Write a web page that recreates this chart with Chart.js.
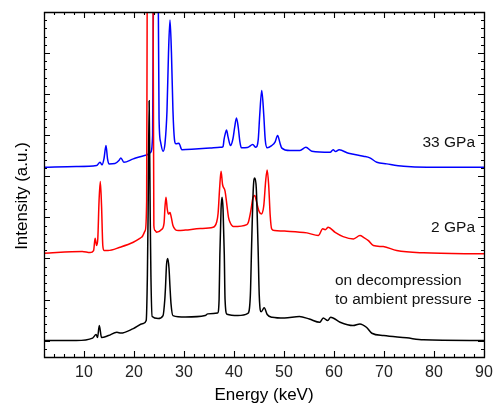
<!DOCTYPE html>
<html><head><meta charset="utf-8">
<script src="https://cdn.jsdelivr.net/npm/chart.js@4.4.0/dist/chart.umd.min.js"></script>
<style>html,body{margin:0;padding:0;background:#fff;}#wrap{width:493px;height:406px;position:relative;}</style>
</head><body><div id="wrap"><canvas id="c" width="493" height="406"></canvas></div>
<script>
const FONT = '"Liberation Sans", Arial, Helvetica, sans-serif';

// Energy axis (keV) and tick labels
const xTickValues = [10, 20, 30, 40, 50, 60, 70, 80, 90];
const yMajorValues = [0, 5, 10, 15, 20, 25, 30, 35, 40];

// Spectrum: on decompression to ambient pressure (black)
const blackEnergy = [2.0, 8.45, 11.72, 12.42, 12.71, 13.06, 13.51, 14.9, 16.58, 17.38, 19.86, 21.84, 22.44, 22.68, 22.83, 23.03, 23.23, 23.38, 23.63, 24.82, 25.81, 26.16, 26.3, 26.5, 26.75, 27.0, 27.2, 27.4, 27.79, 30.27, 34.24, 34.74, 36.72, 37.02, 37.17, 37.41, 37.61, 37.81, 38.06, 38.21, 38.6, 40.79, 42.77, 43.27, 43.52, 43.86, 44.16, 44.46, 44.81, 45.05, 45.45, 46.04, 46.64, 47.63, 50.11, 53.09, 55.07, 57.16, 57.85, 58.74, 59.34, 61.22, 63.8, 65.19, 66.48, 67.57, 69.95, 74.51, 77.89, 90];
const blackIntensity = [0, 0, 0.3, 0.73, 0.37, 1.83, 0.37, 0.61, 1.01, 0.91, 1.46, 2.07, 2.43, 8, 15.9, 29.2, 15.9, 8, 2.92, 2.68, 3.04, 5, 6.5, 9.2, 9.98, 8.8, 6.5, 4.5, 3.04, 2.86, 3.04, 3.25, 3.35, 5, 10.4, 16, 17.45, 16, 10.4, 5, 3.2, 3.04, 3.3, 5.5, 11.5, 18.5, 19.8, 18.5, 11.5, 5.5, 3.5, 4.0, 3.17, 2.84, 2.74, 2.92, 2.62, 2.23, 2.76, 2.43, 2.84, 2.23, 1.83, 2.03, 1.62, 0.89, 0.61, 0.33, 0.09, 0];

// Spectrum: 2 GPa (red)
const redEnergy = [2.0, 9.64, 11.23, 11.92, 12.22, 12.52, 12.76, 13.01, 13.26, 13.51, 13.76, 14.0, 14.8, 17.18, 19.86, 21.54, 22.24, 22.53, 22.63, 22.73, 23.72, 23.82, 23.97, 24.22, 24.52, 25.51, 26.01, 26.2, 26.4, 26.65, 26.9, 27.2, 27.49, 27.79, 28.29, 28.88, 30.27, 33.25, 35.83, 36.52, 36.82, 37.12, 37.41, 37.71, 38.21, 38.6, 38.9, 39.2, 39.89, 42.57, 42.87, 43.37, 43.76, 44.16, 44.46, 44.95, 45.45, 45.95, 46.34, 46.64, 46.94, 47.24, 47.53, 48.13, 50.11, 54.58, 56.86, 57.75, 58.25, 58.84, 60.23, 61.82, 63.9, 65.19, 65.98, 66.88, 67.87, 69.85, 72.53, 77.89, 90];
const redIntensity = [10.63, 10.84, 10.71, 10.96, 12.45, 11.57, 12.4, 17.0, 19.36, 16.4, 11.57, 10.96, 10.96, 11.36, 11.97, 12.58, 13.39, 17, 40, 80, 80, 40, 14, 13.39, 13.18, 13.51, 14.3, 16.3, 17.45, 16, 15.4, 15.6, 14.9, 14.0, 13.5, 13.39, 13.45, 13.64, 13.79, 14.4, 15.5, 18.5, 20.61, 19, 18.2, 16.4, 15.0, 14.4, 13.88, 14.12, 14.4, 15.83, 17.3, 17.65, 17.0, 15.83, 15.42, 16.4, 19.48, 20.78, 18.87, 15.22, 13.6, 13.39, 13.33, 13.11, 12.78, 13.6, 13.5, 13.79, 13.18, 12.66, 12.38, 12.78, 12.54, 12.17, 11.57, 11.44, 10.96, 10.68, 10.56];

// Spectrum: 33 GPa (blue)
const blueEnergy = [2.0, 8.45, 12.52, 13.21, 13.61, 14.0, 14.4, 14.7, 14.99, 16.19, 16.98, 17.38, 17.97, 19.86, 22.53, 23.33, 23.72, 23.92, 24.07, 24.62, 24.82, 25.01, 25.31, 25.81, 26.2, 26.6, 26.9, 27.2, 27.49, 27.79, 28.09, 28.39, 28.98, 29.58, 32.26, 35.23, 37.22, 37.81, 38.01, 38.26, 38.51, 38.81, 39.3, 39.8, 40.14, 40.49, 40.84, 41.18, 41.48, 42.67, 43.76, 44.36, 44.85, 45.15, 45.55, 45.95, 46.24, 46.64, 47.53, 48.23, 48.72, 49.22, 49.52, 51.2, 53.19, 54.38, 55.57, 59.24, 59.83, 60.33, 61.02, 62.91, 65.88, 67.17, 68.56, 70.55, 73.92, 78.6, 90];
const blueIntensity = [21.1, 21.18, 21.3, 21.71, 21.39, 22.16, 23.74, 22.16, 21.51, 21.55, 21.91, 22.24, 21.71, 22.12, 22.6, 22.92, 25, 45, 80, 80, 45, 27, 24.2, 23.05, 24, 28, 35, 39.04, 35, 28, 24.5, 23.95, 24.02, 23.22, 23.31, 23.44, 23.53, 23.62, 24.5, 25.2, 25.65, 24.8, 23.74, 24.6, 26, 27.11, 26, 24.2, 23.46, 23.5, 23.86, 23.53, 24.5, 27.5, 30.44, 27.5, 24.5, 23.46, 23.74, 24.2, 24.96, 24.0, 23.46, 23.13, 23.13, 23.53, 23.05, 22.92, 23.22, 23.01, 23.22, 22.8, 22.44, 22.24, 21.71, 21.51, 21.22, 21.1, 21.1];

const seriesLabels = ['33 GPa', '2 GPa', 'on decompression to ambient pressure'];

function pts(xs, ys) { return xs.map((x, i) => ({x: x, y: ys[i]})); }

const xMinorValues = []; for (let v = 2; v <= 90; v += 2) xMinorValues.push(v);
const yMinorValues = []; for (let v = -2; v <= 40; v += 1) yMinorValues.push(v);

const framePlugin = {
  id: 'frame',
  afterDatasetsDraw(chart) {
    const {ctx, chartArea: a, scales: {x, y}} = chart;
    ctx.save();
    ctx.strokeStyle = '#000';
    ctx.lineWidth = 1.3;
    ctx.beginPath();
    ctx.rect(a.left + 0.5, a.top + 0.5, a.right - a.left, a.bottom - a.top);
    ctx.stroke();
    ctx.lineWidth = 1.1;
    ctx.beginPath();
    const tick = (vals, len, horiz) => {
      vals.forEach(v => {
        if (horiz) {
          const p = Math.round(x.getPixelForValue(v)) + 0.5;
          ctx.moveTo(p, a.bottom); ctx.lineTo(p, a.bottom - len);
          ctx.moveTo(p, a.top); ctx.lineTo(p, a.top + len);
        } else {
          const p = Math.round(y.getPixelForValue(v)) + 0.5;
          ctx.moveTo(a.left, p); ctx.lineTo(a.left + len, p);
          ctx.moveTo(a.right, p); ctx.lineTo(a.right - len, p);
        }
      });
    };
    tick(xMinorValues, 3, true);
    tick(xTickValues, 6, true);
    tick(yMinorValues, 3, false);
    tick(yMajorValues, 6, false);
    ctx.stroke();

    // y axis title
    ctx.fillStyle = '#000';
    ctx.font = '17px ' + FONT;
    ctx.textAlign = 'center';
    ctx.textBaseline = 'middle';
    ctx.save();
    ctx.translate(22, 196);
    ctx.rotate(-Math.PI / 2);
    ctx.fillText('Intensity (a.u.)', 0, 0);
    ctx.restore();

    // series annotations
    ctx.font = '15.5px ' + FONT;
    ctx.textBaseline = 'alphabetic';
    ctx.fillStyle = '#111';
    ctx.textAlign = 'right';
    ctx.fillText('33 GPa', 475, 147);
    ctx.fillText('2 GPa', 475, 232);
    ctx.textAlign = 'left';
    ctx.fillText('on decompression', 335, 285);
    ctx.fillText('to ambient pressure', 335, 304);
    ctx.restore();
  }
};

const common = {borderWidth: 1.5, pointRadius: 0, fill: false, cubicInterpolationMode: 'monotone'};

new Chart(document.getElementById('c'), {
  type: 'line',
  data: {
    datasets: [
      Object.assign({label: seriesLabels[2], data: pts(blackEnergy, blackIntensity), borderColor: '#000000'}, common),
      Object.assign({label: seriesLabels[1], data: pts(redEnergy, redIntensity), borderColor: '#ff0000'}, common),
      Object.assign({label: seriesLabels[0], data: pts(blueEnergy, blueIntensity), borderColor: '#0000ff'}, common)
    ]
  },
  options: {
    responsive: false,
    animation: false,
    layout: {padding: {left: 44, top: 12, right: 9, bottom: 0}},
    plugins: {legend: {display: false}, tooltip: {enabled: false}},
    scales: {
      x: {
        type: 'linear', min: 2, max: 90,
        afterBuildTicks(scale) { scale.ticks = xTickValues.map(v => ({value: v})); },
        afterFit(scale) { scale.height = 49; scale.paddingRight = 0; scale.paddingLeft = 0; },
        grid: {display: false, drawTicks: false},
        border: {display: false},
        ticks: {font: {size: 16, family: FONT}, color: '#222', padding: 6, maxRotation: 0, autoSkip: false},
        title: {display: true, text: 'Energy (keV)', font: {size: 17, family: FONT}, color: '#000', padding: {top: 0, bottom: 0}}
      },
      y: {
        type: 'linear', min: -2, max: 40, display: false
      }
    }
  },
  plugins: [framePlugin]
});
</script>
</body></html>
